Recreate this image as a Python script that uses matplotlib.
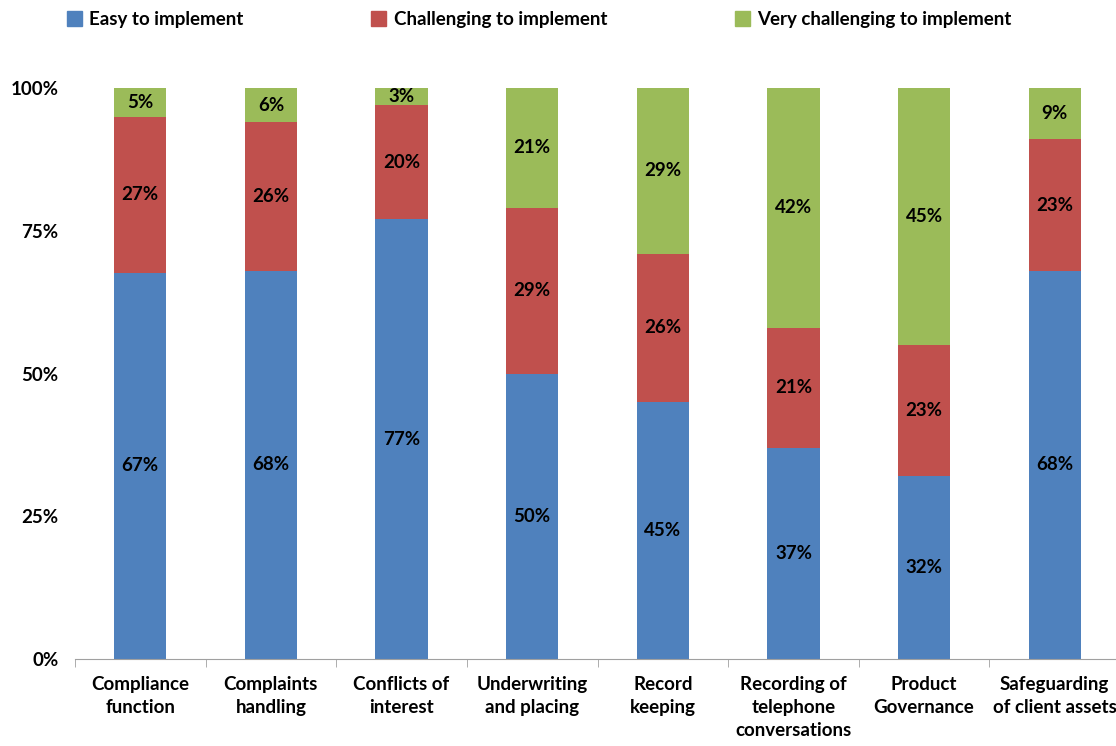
import numpy as np
import matplotlib.pyplot as plt
from matplotlib.patches import Patch

categories = ["Compliance\nfunction", "Complaints\nhandling", "Conflicts of\ninterest",
              "Underwriting\nand placing", "Record\nkeeping", "Recording of\ntelephone\nconversations",
              "Product\nGovernance", "Safeguarding\nof client assets"]
easy = [67, 68, 77, 50, 45, 37, 32, 68]
challenging = [27, 26, 20, 29, 26, 21, 23, 23]
very_challenging = [5, 6, 3, 21, 29, 42, 45, 9]
series_names = ["Easy to implement", "Challenging to implement", "Very challenging to implement"]
colors = ["#4F81BD", "#C0504D", "#9BBB59"]

plt.rcParams['font.family'] = ['Lato', 'DejaVu Sans']
plt.rcParams['font.weight'] = 'bold'

fig = plt.figure(figsize=(11.16, 7.46), dpi=100)
ax = fig.add_axes([75 / 1116, 1 - 659 / 746, 1045 / 1116, (659 - 88) / 746])

data = np.array([easy, challenging, very_challenging], dtype=float)
shares = data / data.sum(axis=0)  # 100% stacked
x = np.arange(len(categories))
bottom = np.zeros(len(categories))
for i in range(3):
    ax.bar(x, shares[i], 0.4, bottom=bottom, color=colors[i], edgecolor='none')
    for j in range(len(categories)):
        ax.text(x[j], bottom[j] + shares[i][j] / 2, f"{int(data[i][j])}%",
                ha='center', va='center', fontsize=13.5, fontweight='bold', color='black')
    bottom += shares[i]

ax.set_xlim(-0.5, len(categories) - 0.5)
ax.set_ylim(0, 1)
ax.set_yticks([0, 0.25, 0.5, 0.75, 1.0])
ax.set_yticklabels(["0%", "25%", "50%", "75%", "100%"], fontsize=13.5, fontweight='bold')
ax.tick_params(axis='y', length=0, pad=12)

ax.set_xticks(x)
ax.set_xticklabels(categories, fontsize=13.5, fontweight='bold', linespacing=1.45)
ax.tick_params(axis='x', which='major', length=0, pad=12)
ax.set_xticks(np.arange(len(categories) + 1) - 0.5, minor=True)
ax.tick_params(axis='x', which='minor', length=6, color='#A0A0A0', direction='out')

for s in ['top', 'right', 'left']:
    ax.spines[s].set_visible(False)
ax.spines['bottom'].set_color('#A0A0A0')

handles = [Patch(color=c) for c in colors]
fig.legend(handles, series_names, loc='upper left', bbox_to_anchor=(50 / 1116, 1.008),
           ncol=3, frameon=False, handlelength=0.8, handleheight=0.8,
           handletextpad=0.4, columnspacing=6.8, prop={'weight': 'bold', 'size': 13.5})

plt.savefig("out.png", dpi=100)
